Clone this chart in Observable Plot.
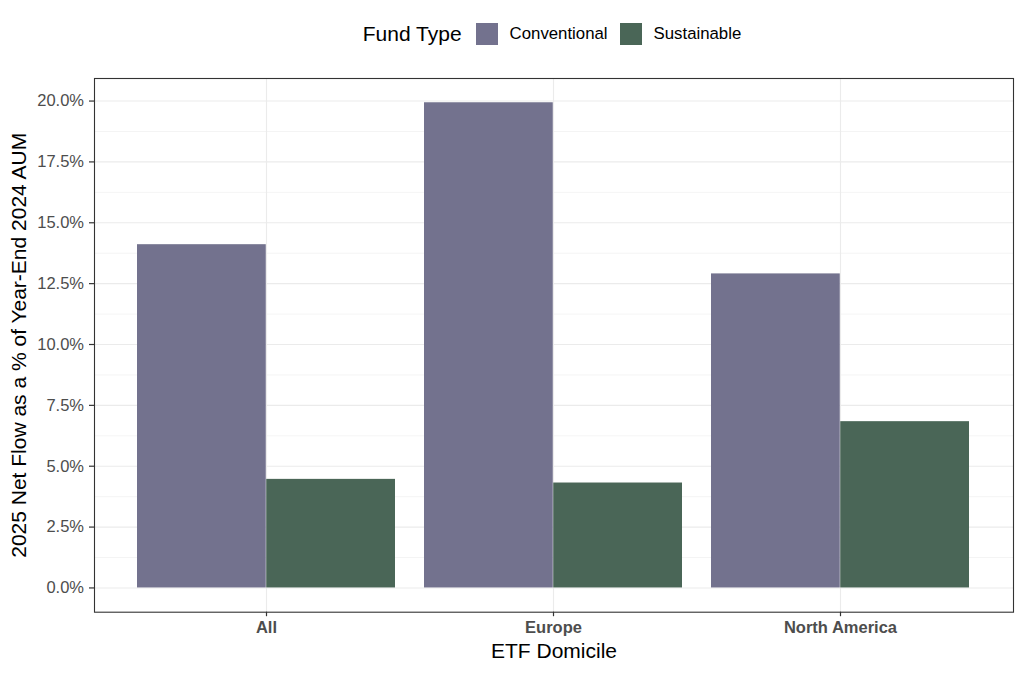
<!DOCTYPE html>
<html>
<head>
<meta charset="utf-8">
<script src="https://cdn.jsdelivr.net/npm/d3@7"></script>
<script src="https://cdn.jsdelivr.net/npm/@observablehq/plot@0.6"></script>
<style>
  html, body { margin: 0; padding: 0; background: #fff; }
  body { width: 1024px; height: 676px; overflow: hidden; font-family: "Liberation Sans", Arial, sans-serif; }
  #legend { height: 60px; display: flex; align-items: center; justify-content: center; padding-left: 92px; padding-top: 7px; box-sizing: border-box; }
  #legend .title { font-size: 21px; color: #000; margin-right: 14px; }
  #legend .sw { width: 22px; height: 22px; margin-right: 12px; }
  #legend .lab { font-size: 16.8px; color: #000; margin-right: 12px; }
  #chart svg { display: block; }
</style>
</head>
<body>
<div id="legend"></div>
<div id="chart"></div>
<script>
const domiciles = ["All", "Europe", "North America"];
const fundTypes = ["Conventional", "Sustainable"];
const conventional = [14.10, 19.93, 12.90];
const sustainable = [4.46, 4.31, 6.83];
const fundColors = ["#73728e", "#4a6657"];
const yTicks = [0, 2.5, 5, 7.5, 10, 12.5, 15, 17.5, 20];
const yMinor = [1.25, 3.75, 6.25, 8.75, 11.25, 13.75, 16.25, 18.75];
const xTitle = "ETF Domicile";
const yTitle = "2025 Net Flow as a % of Year-End 2024 AUM";
const legendTitle = "Fund Type";

const seriesByFund = {Conventional: conventional, Sustainable: sustainable};
const rows = domiciles.flatMap((d, i) => fundTypes.map(f => ({domicile: d, fund: f, value: seriesByFund[f][i]})));

// legend
const lg = document.getElementById("legend");
const t = document.createElement("span"); t.className = "title"; t.textContent = legendTitle; lg.appendChild(t);
fundTypes.forEach((f, k) => {
  const s = document.createElement("span"); s.className = "sw"; s.style.background = fundColors[k]; lg.appendChild(s);
  const l = document.createElement("span"); l.className = "lab"; l.textContent = f; lg.appendChild(l);
});

const W = 1024, H = 616, ML = 94, MR = 11, MT = 18, MB = 64.3;
const padInner = 0.1, padOuter = 0.15;
const step = (W - ML - MR) / (domiciles.length - padInner + 2 * padOuter);
const half = step * (1 - padInner) / 2;
const vmax = d3.max(rows, r => r.value);

const gridColor = "#ebebeb";

const plot = Plot.plot({
  width: W, height: H,
  marginLeft: ML, marginRight: MR, marginTop: MT, marginBottom: MB,
  style: {fontFamily: "'Liberation Sans', Arial, sans-serif", color: "#333333", background: "#fff"},
  x: {domain: domiciles, paddingInner: padInner, paddingOuter: padOuter, align: 0.5, axis: null},
  y: {domain: [-0.05 * vmax, 1.05 * vmax], axis: null},
  color: {domain: fundTypes, range: fundColors},
  marks: [
    Plot.ruleY(yMinor, {stroke: gridColor, strokeWidth: 0.55}),
    Plot.ruleY(yTicks, {stroke: gridColor, strokeWidth: 1.1}),
    Plot.gridX({stroke: gridColor, strokeOpacity: 1, strokeWidth: 1.1}),
    ...fundTypes.map((f, k) => Plot.barY(rows.filter(r => r.fund === f), {
      x: "domicile", y: "value", fill: "fund",
      insetLeft: k * half, insetRight: (1 - k) * half
    })),
    Plot.frame({stroke: "#333333", strokeWidth: 1.1}),
    Plot.axisY(yTicks, {tickFormat: d => d.toFixed(1) + "%", tickSize: 5, tickPadding: 5.5, fontSize: 16.5, label: null, fill: "#4d4d4d", stroke: "#333333", strokeWidth: 1.2}),
    Plot.axisX({tickSize: 4.5, tickPadding: 5, fontSize: 16.5, fontWeight: "bold", label: null, fill: "#4d4d4d", stroke: "#333333", strokeWidth: 1.2}),
    Plot.text([xTitle], {frameAnchor: "bottom", dy: 45.5, fontSize: 21, fill: "#000"}),
    Plot.text([yTitle], {frameAnchor: "left", textAnchor: "middle", rotate: -90, dx: -75, fontSize: 21, fill: "#000"})
  ]
});
document.getElementById("chart").appendChild(plot);
</script>
</body>
</html>
